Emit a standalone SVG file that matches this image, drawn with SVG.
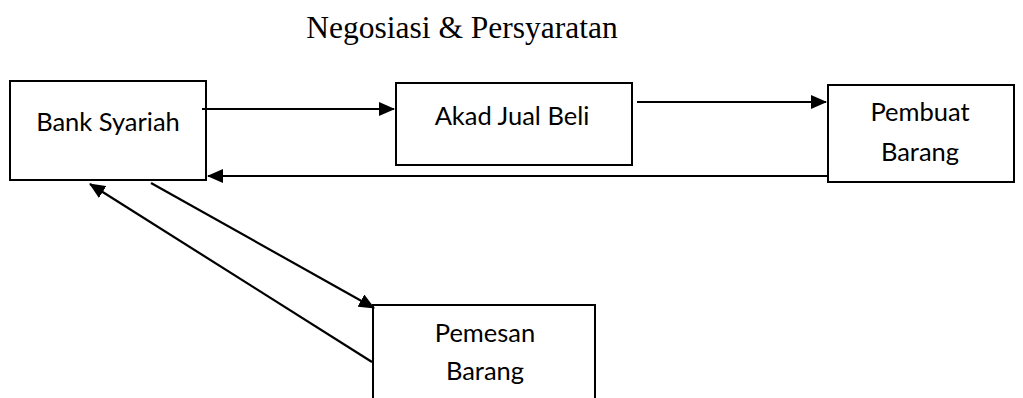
<svg xmlns="http://www.w3.org/2000/svg" width="1023" height="398" viewBox="0 0 1023 398">
<style>
.box{fill:#fff;stroke:#000;stroke-width:2}
.lbl{font-family:Lato,"Open Sans","Liberation Sans",sans-serif;font-size:25.5px;fill:#000;text-anchor:middle}
.ttl{font-family:"Liberation Serif",serif;font-size:31.5px;fill:#000;text-anchor:middle}
.con{stroke:#000;stroke-width:2.2;fill:none;marker-end:url(#ah)}
</style>
<defs>
<marker id="ah" markerWidth="16" markerHeight="14" refX="15" refY="7" orient="auto" markerUnits="userSpaceOnUse">
<path d="M0,0 L16,7 L0,14 Z" fill="#000"/>
</marker>
</defs>
<text class="ttl" x="462" y="38">Negosiasi &amp; Persyaratan</text>
<g id="bank"><rect class="box" x="10" y="81" width="196" height="99"/><text class="lbl" x="108" y="131">Bank Syariah</text></g>
<g id="akad"><rect class="box" x="396" y="83" width="236" height="82"/><text class="lbl" x="512" y="125">Akad Jual Beli</text></g>
<g id="pembuat"><rect class="box" x="828" y="85" width="186" height="97"/><text class="lbl" x="920" y="121">Pembuat</text><text class="lbl" x="920" y="161">Barang</text></g>
<g id="pemesan"><rect class="box" x="373" y="305" width="222" height="100"/><text class="lbl" x="485" y="342">Pemesan</text><text class="lbl" x="485" y="380">Barang</text></g>
<g id="connectors">
<line class="con" x1="202" y1="109" x2="394" y2="109"/>
<line class="con" x1="637" y1="102" x2="826" y2="102"/>
<line class="con" x1="828" y1="176" x2="208" y2="176"/>
<line class="con" x1="151" y1="183" x2="374" y2="308"/>
<line class="con" x1="372" y1="362" x2="90" y2="184"/>
</g>
</svg>
